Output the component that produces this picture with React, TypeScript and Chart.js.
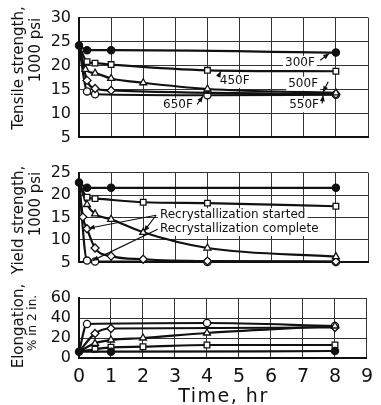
import React, { useEffect, useRef } from 'react';
import { Chart, registerables } from 'chart.js';
Chart.register(...registerables);

const FONT = '"DejaVu Sans", sans-serif';
type Pt = [number, number];

// ---- data ----
const xTickValues = [0, 1, 2, 3, 4, 5, 6, 7, 8, 9];
const seriesNames = ['300F', '450F', '500F', '550F', '650F'];

const tensile300: Pt[] = [[0, 24.2], [0.25, 23.2], [1, 23.2], [8, 22.7]];
const tensile450: Pt[] = [[0, 24.2], [0.25, 20.8], [0.5, 20.5], [1, 20.2], [4, 19.0], [8, 18.8]];
const tensile500: Pt[] = [[0, 24.2], [0.2, 19.2], [0.5, 18.4], [1, 17.3], [2, 16.4], [4, 15.1], [8, 14.3]];
const tensile550: Pt[] = [[0, 24.2], [0.25, 16.9], [0.5, 15.2], [1, 14.8], [8, 14.0]];
const tensile650: Pt[] = [[0, 24.2], [0.25, 14.6], [0.5, 14.0], [4, 13.8], [8, 13.9]];

const yield300: Pt[] = [[0, 22.8], [0.25, 21.6], [1, 21.6], [8, 21.6]];
const yield450: Pt[] = [[0, 22.8], [0.25, 19.5], [0.5, 19.2], [2, 18.4], [4, 18.2], [8, 17.5]];
const yield500: Pt[] = [[0, 22.8], [0.25, 17.9], [0.5, 15.8], [1, 14.6], [2, 11.7], [4, 8.2], [8, 6.3]];
const yield550: Pt[] = [[0, 22.8], [0.12, 15.1], [0.25, 12.5], [0.5, 8.2], [1, 6.4], [2, 5.7], [4, 5.3], [8, 5.2]];
const yield650: Pt[] = [[0, 22.8], [0.25, 5.4], [0.5, 5.2], [4, 5.1], [8, 5.1]];

const elong300: Pt[] = [[0, 6.3], [1, 6.3], [8, 7]];
const elong450: Pt[] = [[0, 6.3], [0.5, 8.7], [1, 10.7], [2, 11.3], [4, 13], [8, 13]];
const elong500: Pt[] = [[0, 6.3], [0.5, 14.7], [1, 18], [2, 20], [4, 25], [8, 32]];
const elong550: Pt[] = [[0, 6.3], [0.5, 24.5], [1, 29.5], [8, 30.5]];
const elong650: Pt[] = [[0, 6.3], [0.25, 34], [4, 35], [8, 32]];

const tensileRange = { min: 5, max: 30, step: 5 };
const yieldRange = { min: 5, max: 25, step: 5 };
const elongRange = { min: 0, max: 60, step: 20 };

// ---- styles ----
const markerStyles: Record<string, any> = {
  '300F': { shape: 'circle', fill: '#111', r: 3.6, showFirst: true },
  '450F': { shape: 'rect', fill: '#fff', r: 4, showFirst: false },
  '500F': { shape: 'triangle', fill: '#fff', r: 4, showFirst: false },
  '550F': { shape: 'rectRot', fill: '#fff', r: 4, showFirst: false },
  '650F': { shape: 'circle', fill: '#fff', r: 3.6, showFirst: false },
};

type Title = { text: string; x: number; y: number; size: number; rot?: boolean; spacing?: number };
type Label = { text: string; x: number; y: number; align: 'center' | 'left' };
type Arrow = { from: Pt; to: Pt };

type Panel = {
  top: number; height: number; padTop: number; padBottom: number;
  series: Pt[][]; range: { min: number; max: number; step: number };
  showX: boolean; xHeight: number;
  titles: Title[]; labels: Label[]; arrows: Arrow[];
};

const panels: Panel[] = [
  {
    top: 0, height: 155, padTop: 15, padBottom: 13,
    series: [tensile300, tensile450, tensile500, tensile550, tensile650], range: tensileRange,
    showX: false, xHeight: 0,
    titles: [
      { text: 'Tensile strength,', x: 19, y: 68, size: 15, rot: true },
      { text: '1000 psi', x: 36, y: 50, size: 15, rot: true },
    ],
    labels: [
      { text: '300F', x: 6.88, y: 20.55, align: 'center' },
      { text: '450F', x: 4.85, y: 16.8, align: 'center' },
      { text: '500F', x: 6.98, y: 16.2, align: 'center' },
      { text: '550F', x: 7.01, y: 11.7, align: 'center' },
      { text: '650F', x: 3.08, y: 11.7, align: 'center' },
    ],
    arrows: [
      { from: [7.51, 21.1], to: [7.79, 22.5] },
      { from: [4.33, 17.6], to: [4.42, 18.8] },
      { from: [7.76, 16.6], to: [7.6, 14.4] },
      { from: [7.57, 12.1], to: [7.6, 13.8] },
      { from: [3.68, 11.9], to: [3.86, 13.6] },
    ],
  },
  {
    top: 155, height: 125, padTop: 15, padBottom: 12,
    series: [yield300, yield450, yield500, yield550, yield650], range: yieldRange,
    showX: false, xHeight: 0,
    titles: [
      { text: 'Yield strength,', x: 19, y: 65, size: 15, rot: true },
      { text: '1000 psi', x: 36, y: 49, size: 15, rot: true },
    ],
    labels: [
      { text: 'Recrystallization started', x: 2.52, y: 15.5, align: 'left' },
      { text: 'Recrystallization complete', x: 2.52, y: 12.45, align: 'left' },
    ],
    arrows: [
      { from: [2.4, 15.5], to: [0.3, 12.6] },
      { from: [2.4, 15.5], to: [2.02, 11.9] },
      { from: [2.45, 12.4], to: [0.42, 5.4] },
    ],
  },
  {
    top: 280, height: 125, padTop: 18, padBottom: 0,
    series: [elong300, elong450, elong500, elong550, elong650], range: elongRange,
    showX: true, xHeight: 47,
    titles: [
      { text: 'Elongation,', x: 19, y: 46, size: 15, rot: true },
      { text: '% in 2 in.', x: 33, y: 43, size: 12, rot: true },
      { text: 'Time, hr', x: 223.5, y: 117, size: 19, spacing: 1.5 },
    ],
    labels: [],
    arrows: [],
  },
];

function overlay(p: Panel) {
  return {
    id: 'overlay',
    afterDraw(chart: any) {
      const ctx = chart.ctx as CanvasRenderingContext2D;
      const xs = chart.scales.x, ys = chart.scales.y;
      ctx.save();
      for (const t of p.titles) {
        ctx.save();
        ctx.translate(t.x, t.y);
        if (t.rot) ctx.rotate(-Math.PI / 2);
        ctx.font = `${t.size}px ${FONT}`;
        (ctx as any).letterSpacing = `${t.spacing || 0}px`;
        ctx.fillStyle = '#111';
        ctx.textAlign = 'center';
        ctx.textBaseline = 'middle';
        ctx.fillText(t.text, 0, 0);
        ctx.restore();
      }
      ctx.font = `12px ${FONT}`;
      const boxes = p.labels.map((l) => {
        const w = ctx.measureText(l.text).width;
        const px = xs.getPixelForValue(l.x);
        const py = ys.getPixelForValue(l.y);
        const left = l.align === 'left' ? px : px - w / 2;
        return { l, w, left, py };
      });
      ctx.fillStyle = '#fff';
      for (const b of boxes) ctx.fillRect(b.left - 2, b.py - 7, b.w + 4, 14);
      ctx.strokeStyle = '#111';
      ctx.fillStyle = '#111';
      ctx.lineWidth = 1.2;
      for (const a of p.arrows) {
        const x1 = xs.getPixelForValue(a.from[0]), y1 = ys.getPixelForValue(a.from[1]);
        const x2 = xs.getPixelForValue(a.to[0]), y2 = ys.getPixelForValue(a.to[1]);
        ctx.beginPath();
        ctx.moveTo(x1, y1);
        ctx.lineTo(x2, y2);
        ctx.stroke();
        const ang = Math.atan2(y2 - y1, x2 - x1);
        const L = 6, W = 2.5;
        ctx.beginPath();
        ctx.moveTo(x2, y2);
        ctx.lineTo(x2 - L * Math.cos(ang) + W * Math.sin(ang), y2 - L * Math.sin(ang) - W * Math.cos(ang));
        ctx.lineTo(x2 - L * Math.cos(ang) - W * Math.sin(ang), y2 - L * Math.sin(ang) + W * Math.cos(ang));
        ctx.closePath();
        ctx.fill();
      }
      ctx.textAlign = 'left';
      ctx.textBaseline = 'middle';
      for (const b of boxes) ctx.fillText(b.l.text, b.left, b.py);
      ctx.restore();
    },
  };
}

function buildChart(canvas: HTMLCanvasElement, p: Panel) {
  return new Chart(canvas, {
    type: 'line',
    data: {
      datasets: p.series.map((data, si) => {
        const st = markerStyles[seriesNames[si]];
        return {
          label: seriesNames[si],
          data: data.map(([x, y]) => ({ x, y })),
          borderColor: '#111',
          borderWidth: 2.2,
          pointStyle: st.shape,
          pointRadius: data.map((_, i) => (i === 0 && !st.showFirst ? 0 : st.r)),
          pointBackgroundColor: st.fill,
          pointBorderColor: '#111',
          pointBorderWidth: 1.3,
          cubicInterpolationMode: 'monotone',
          fill: false,
          clip: false,
        } as any;
      }),
    },
    options: {
      responsive: false,
      animation: false,
      events: [],
      layout: { padding: { top: p.padTop, right: 13, bottom: p.padBottom, left: 0 } },
      plugins: { legend: { display: false }, tooltip: { enabled: false } },
      scales: {
        x: {
          type: 'linear',
          min: 0,
          max: 9,
          afterBuildTicks: (s: any) => { s.ticks = xTickValues.map((v) => ({ value: v })); },
          ticks: { display: p.showX, autoSkip: false, maxRotation: 0, color: '#111', font: { family: FONT, size: 19 }, padding: 8 },
          grid: { color: '#333', lineWidth: 1, drawTicks: false },
          border: { color: '#111', width: 2 },
          afterFit: (s: any) => { s.height = p.xHeight; },
        },
        y: {
          type: 'linear',
          min: p.range.min,
          max: p.range.max,
          ticks: { stepSize: p.range.step, autoSkip: false, color: '#111', font: { family: FONT, size: 16 }, padding: 8 },
          grid: { color: '#333', lineWidth: 1, drawTicks: false },
          border: { color: '#111', width: 2 },
          afterFit: (s: any) => { s.width = 79; },
        },
      },
    } as any,
    plugins: [overlay(p) as any],
  });
}

function PanelChart({ p }: { p: Panel }) {
  const ref = useRef<HTMLCanvasElement | null>(null);
  useEffect(() => {
    if (!ref.current) return;
    const c = buildChart(ref.current, p);
    return () => c.destroy();
  }, []);
  return (
    <canvas
      ref={ref}
      width={381}
      height={p.height}
      style={{ position: 'absolute', left: 0, top: p.top, width: 381, height: p.height, display: 'block' }}
    />
  );
}

export default function App() {
  return (
    <div style={{ position: 'absolute', left: 0, top: 0, width: 381, height: 405, background: '#fff', overflow: 'hidden' }}>
      {panels.map((p, i) => (
        <PanelChart key={i} p={p} />
      ))}
    </div>
  );
}
